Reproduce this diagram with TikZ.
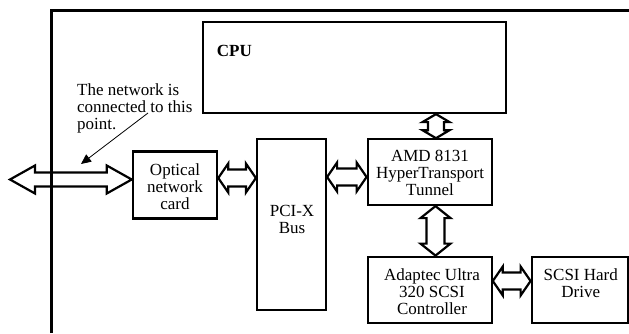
\documentclass[tikz,border=0pt]{standalone}
\usepackage{fontspec}
\setmainfont{Liberation Serif}
\usetikzlibrary{arrows.meta,calc}

% horizontal block double arrow: #1 left tip, #2 right tip, #3 shaft half, #4 head half, #5 head length
\newcommand\hdarrow[5]{%
  \draw[blk] (#1) -- ++(#5,-#4) -- ++(0,#4-#3) -- ($(#2)+(-#5,-#3)$) -- ++(0,#3-#4) -- (#2)
    -- ++(-#5,#4) -- ++(0,#3-#4) -- ($(#1)+(#5,#3)$) -- ++(0,#4-#3) -- cycle;}
% vertical block double arrow: #1 top tip, #2 bottom tip
\newcommand\vdarrow[5]{%
  \draw[blk] (#1) -- ++(#4,#5) -- ++(#3-#4,0) -- ($(#2)+(#3,-#5)$) -- ++(#4-#3,0) -- (#2)
    -- ++(-#4,-#5) -- ++(#4-#3,0) -- ($(#1)+(-#3,#5)$) -- ++(#3-#4,0) -- cycle;}

\begin{document}
\begin{tikzpicture}[x=1pt,y=-1pt,
  box/.style={draw, line width=2.2pt, inner sep=0pt},
  txt/.style={font=\fontsize{17}{17}\selectfont, align=center, inner sep=0pt},
  blk/.style={draw, fill=white, line width=2.2pt, line join=miter}]
\useasboundingbox (0,0) rectangle (629,333);

% boxes
\node[box, minimum width=302.7pt, minimum height=91pt] (cpu) at (354.35,67.5) {};
\node[box, line width=2.5pt, minimum width=84pt, minimum height=66.6pt] (card) at (175,185) {};
\node[box, minimum width=69pt, minimum height=170.7pt] (pci) at (291.5,224.65) {};
\node[box, minimum width=124pt, minimum height=65.7pt] (amd) at (429.7,172.15) {};
\node[box, minimum width=124pt, minimum height=66.6pt] (adap) at (429.7,290) {};
\node[box, minimum width=96.6pt, minimum height=66.6pt] (scsi) at (580,290) {};

% texts
\node[txt, font=\bfseries\fontsize{17}{17}\selectfont, anchor=base west] (cputxt) at (216.7,56.7) {CPU};
\node[txt, align=left, anchor=north west] (note) at (77,83.4) {The network is\\connected to this\\point.};
\node[txt] (cardtxt) at (175,187) {Optical\\network\\card};
\node[txt] (pcitxt) at (292,219.5) {PCI-X\\Bus};
\node[txt] (amdtxt) at (430,173) {AMD 8131\\HyperTransport\\Tunnel};
\node[txt] (adaptxt) at (432,292) {Adaptec Ultra\\320 SCSI\\Controller};
\node[txt] (scsitxt) at (580.8,283) {SCSI Hard\\Drive};

% connector end points
\coordinate (n0) at (10,179.5);
\coordinate (n1) at (card.west |- n0);
\coordinate (c1) at (card.east |- 0,178);
\coordinate (c2) at (pci.west |- 0,178);
\coordinate (p1) at (pci.east |- 0,177);
\coordinate (p2) at (amd.west |- 0,177);
\coordinate (u1) at (cpu.south -| 436,0);
\coordinate (u2) at (amd.north -| 436,0);
\coordinate (a1) at (amd.south -| 435.5,0);
\coordinate (a2) at (adap.north -| 435.5,0);
\coordinate (s1) at (adap.east |- 0,281);
\coordinate (s2) at (scsi.west |- 0,281);

% block arrows
\hdarrow{n0}{n1}{7}{14}{25}
\hdarrow{c1}{c2}{8.5}{14.5}{10}
\hdarrow{p1}{p2}{8.5}{14.5}{10}
\vdarrow{u1}{u2}{8}{13.5}{8}
\vdarrow{a1}{a2}{9}{15}{12}
\hdarrow{s1}{s2}{8.5}{14.5}{10}

% annotation arrow
\coordinate (anc) at (148,113);
\coordinate (netpt) at (81,164);
\draw[line width=0.8pt, -{Triangle[length=10pt,width=9pt]}] (anc) -- (netpt);

% outer frame
\draw[line width=3pt] (51,333) -- (51,10) -- (629,10);
\end{tikzpicture}
\end{document}
